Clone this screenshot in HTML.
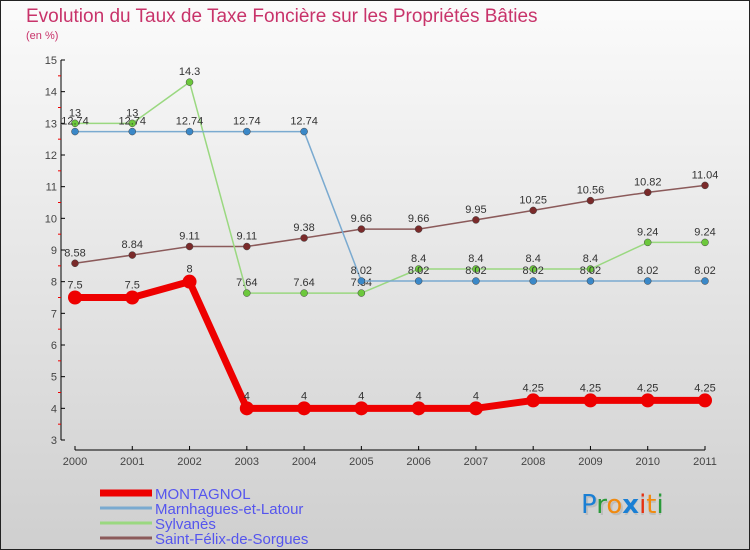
<!DOCTYPE html>
<html><head><meta charset="utf-8"><style>
html,body{margin:0;padding:0}
svg{display:block;font-family:"Liberation Sans",sans-serif}
</style></head><body>
<svg width="750" height="550" viewBox="0 0 750 550">
<defs><linearGradient id="bg" x1="0" y1="0" x2="0" y2="1"><stop offset="0" stop-color="#fbfbfb"/><stop offset="1" stop-color="#cfcfcf"/></linearGradient></defs>
<rect x="0.5" y="0.5" width="749" height="549" fill="url(#bg)" stroke="#222"/>
<text x="26" y="22" font-size="19" fill="#c8336a">Evolution du Taux de Taxe Foncière sur les Propriétés Bâties</text>
<text x="26" y="39" font-size="11" fill="#c8336a">(en %)</text>
<g id="axes"></g>
<g id="series"></g>
<g id="legend"></g>
<g font-size="26" font-family="'DejaVu Sans',sans-serif">
<text x="583" y="515" fill="#aaa" opacity="0.5">Pro<tspan dx="0">x</tspan>iti</text>
<text x="581" y="513"><tspan fill="#1a7fd4">P</tspan><tspan fill="#2a9a3a">r</tspan><tspan fill="#f08a10">o</tspan><tspan fill="#1a7fd4" font-weight="bold">x</tspan><tspan fill="#e63010">i</tspan><tspan fill="#f08a10">t</tspan><tspan fill="#2a9a3a">i</tspan></text>
</g>
</svg>
<script>
const years=["2000","2001","2002","2003","2004","2005","2006","2007","2008","2009","2010","2011"];
const yTicks=[3,4,5,6,7,8,9,10,11,12,13,14,15];
const montagnol=[7.5,7.5,8,4,4,4,4,4,4.25,4.25,4.25,4.25];
const marnhagues=[12.74,12.74,12.74,12.74,12.74,8.02,8.02,8.02,8.02,8.02,8.02,8.02];
const sylvanes=[13,13,14.3,7.64,7.64,7.64,8.4,8.4,8.4,8.4,9.24,9.24];
const saintFelix=[8.58,8.84,9.11,9.11,9.38,9.66,9.66,9.95,10.25,10.56,10.82,11.04];
const NS="http://www.w3.org/2000/svg";
const X=i=>75+i*(630/11);
const Y=v=>440-(v-3)*(380/12);
function mk(t,a,p){const e=document.createElementNS(NS,t);for(const k in a)e.setAttribute(k,a[k]);p.appendChild(e);return e;}
const ax=document.getElementById('axes');
let e=mk('line',{x1:61,y1:60,x2:61,y2:440,stroke:'#000'},ax);


e=mk('line',{x1:75,y1:450,x2:705,y2:450,stroke:'#000'},ax);


yTicks.forEach((v,k)=>{
  mk('line',{x1:61,y1:Y(v),x2:65,y2:Y(v),stroke:'#000'},ax);
  if(k<yTicks.length-1)mk('line',{x1:58,y1:Y(v+0.5),x2:61,y2:Y(v+0.5),stroke:'#e00'},ax);
  const t=mk('text',{x:57,y:Y(v)+4,'font-size':11,fill:'#444','text-anchor':'end'},ax);t.textContent=v;
  
  
});
years.forEach((y,i)=>{
  mk('line',{x1:X(i),y1:446,x2:X(i),y2:450,stroke:'#000'},ax);
  const t=mk('text',{x:X(i),y:465,'font-size':11,fill:'#444','text-anchor':'middle'},ax);t.textContent=y;
  
  
});
const sg=document.getElementById('series');
const defs=[
 {name:'saint-felix',data:saintFelix,color:'#7a2a2a',line:'#8b5a5a',w:1.5,r:3.5,lab:'Saint-Félix-de-Sorgues'},
 {name:'sylvanes',data:sylvanes,color:'#6cc83c',line:'#9ad880',w:1.5,r:3.5,lab:'Sylvanès'},
 {name:'marnhagues',data:marnhagues,color:'#3a88c8',line:'#7aaad0',w:1.5,r:3.5,lab:'Marnhagues-et-Latour'},
 {name:'montagnol',data:montagnol,color:'#ee0000',line:'#ee0000',w:7,r:7,lab:'MONTAGNOL'}
];
defs.forEach(s=>{
  const g=mk('g',{},sg);
  
  
  const pl=mk('polyline',{points:s.data.map((v,i)=>X(i)+','+Y(v)).join(' '),fill:'none',stroke:s.line,'stroke-width':s.w,'stroke-linejoin':'round'},g);
  
  
  s.data.forEach((v,i)=>{
    const c=mk('circle',{cx:X(i),cy:Y(v),r:s.r,fill:s.color,stroke:s.r>5?'none':'#444','stroke-width':0.5},g);
    
    
    const t=mk('text',{x:X(i),y:Y(v)-(s.r>5?9:7),'font-size':11,fill:'#333','text-anchor':'middle'},g);t.textContent=v;
    
    
  });
});
const lg=document.getElementById('legend');
[defs[3],defs[2],defs[1],defs[0]].forEach((s,k)=>{
  const y=493+k*15;
  const l=mk('line',{x1:100,y1:y,x2:152,y2:y,stroke:s.line,'stroke-width':k==0?7:3},lg);
  
  
  const t=mk('text',{x:155,y:y+6,'font-size':15,fill:'#5555ee'},lg);t.textContent=s.lab;
  
  
});
</script>
</body></html>
